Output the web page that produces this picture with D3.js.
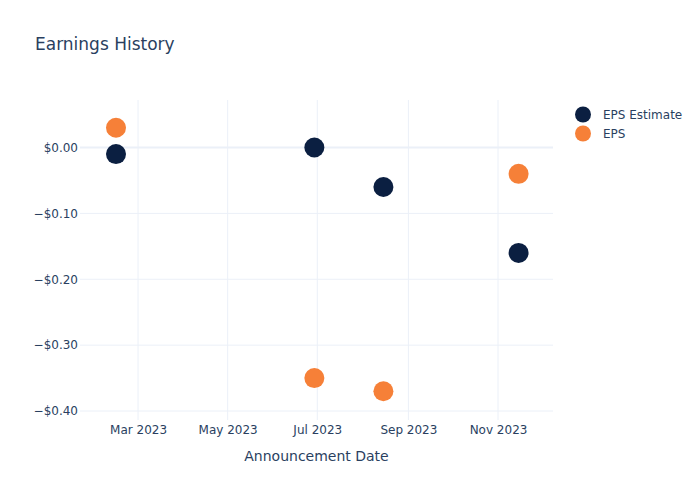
<!DOCTYPE html>
<html><head><meta charset="utf-8">
<script src="https://cdn.jsdelivr.net/npm/d3@7"></script>
<style>body{margin:0;background:#fff}svg text{font-family:"DejaVu Sans",Verdana,Arial,sans-serif}</style>
</head><body><div id="chart"></div>
<script>
const dates = ["2023-02-14","2023-06-29","2023-08-15","2023-11-15"];
const epsEstimate = [-0.01, 0.00, -0.06, -0.16];
const eps = [0.03, -0.35, -0.37, -0.04];
const seriesNames = ["EPS Estimate","EPS"];
const seriesColors = ["#0b1f41","#f68038"];
const yTicks = [0, -0.1, -0.2, -0.3, -0.4];
const xTicks = ["2023-03-01","2023-05-01","2023-07-01","2023-09-01","2023-11-01"];

const W=700,H=500, L=80, R=553, T=100, B=420;
const svg=d3.select("#chart").append("svg").attr("width",W).attr("height",H);
const fc="#2a3f5f";
const parse=d3.utcParse("%Y-%m-%d");
const x=d3.scaleUtc().domain([new Date(Date.UTC(2023,0,20,12)), new Date(Date.UTC(2023,11,8,10))]).range([L,R]);
const y=d3.scaleLinear().domain([0,-0.4]).range([147.5,411]);

// grid
const gx=svg.append("g");
xTicks.forEach(t=>{const px=x(parse(t));gx.append("line").attr("x1",px).attr("x2",px).attr("y1",T).attr("y2",B).attr("stroke","#ebf0f8").attr("stroke-width",1);});
yTicks.forEach(t=>{const py=y(t);svg.append("line").attr("x1",L).attr("x2",R).attr("y1",py).attr("y2",py).attr("stroke","#ebf0f8").attr("stroke-width",t===0?2:1);});

// axes
const xAxis=d3.axisBottom(x).tickValues(xTicks.map(parse)).tickFormat(d3.utcFormat("%b %Y")).tickSize(0).tickPadding(5);
const ga=svg.append("g").attr("transform",`translate(0,${B})`).call(xAxis);
ga.select(".domain").remove();
ga.selectAll("text").attr("fill",fc).attr("font-size",12);
const fmt=v=>(v<0?"\u2212":"")+"$"+Math.abs(v).toFixed(2);
const yAxis=d3.axisLeft(y).tickValues(yTicks).tickFormat(fmt).tickSize(0).tickPadding(2);
const gy=svg.append("g").attr("transform",`translate(${L},0)`).call(yAxis);
gy.select(".domain").remove();
gy.selectAll("text").attr("fill",fc).attr("font-size",12);

// points
const data=[epsEstimate,eps];
data.forEach((vals,i)=>{
  svg.append("g").selectAll("circle").data(vals).join("circle")
    .attr("cx",(d,j)=>x(parse(dates[j]))).attr("cy",d=>y(d)).attr("r",10)
    .attr("fill",seriesColors[i]);
});

// title
svg.append("text").attr("x",35).attr("y",50).attr("font-size",17).attr("fill",fc).text("Earnings History");
svg.append("text").attr("x",(L+R)/2).attr("y",461).attr("text-anchor","middle").attr("font-size",14).attr("fill",fc).text("Announcement Date");

// legend
seriesNames.forEach((n,i)=>{
  const ly=114.5+i*19;
  svg.append("circle").attr("cx",583).attr("cy",ly).attr("r",8).attr("fill",seriesColors[i]);
  svg.append("text").attr("x",603).attr("y",ly+4).attr("font-size",12).attr("fill",fc).text(n);
});
</script></body></html>
